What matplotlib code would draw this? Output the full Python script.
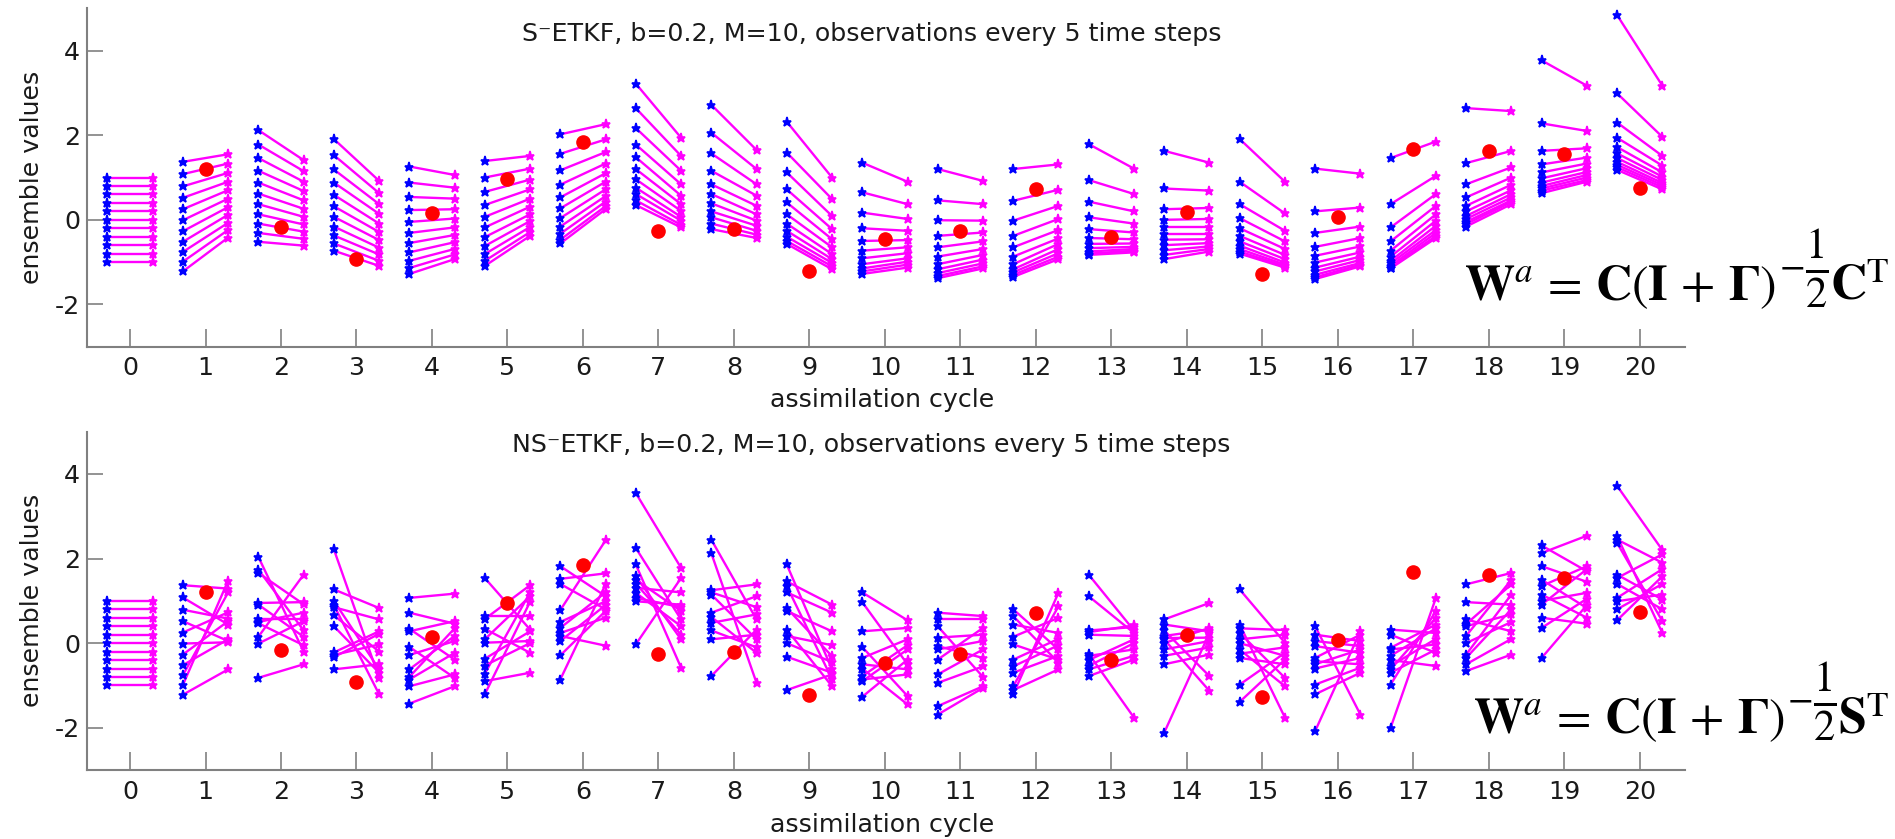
import numpy as np
import matplotlib
matplotlib.use('Agg')
import matplotlib.pyplot as plt

plt.rcParams['font.family'] = ['DejaVu Sans']
plt.rcParams['axes.unicode_minus'] = False
plt.rcParams['mathtext.fontset'] = 'stix'

cycles = list(range(21))
cycle_labels = [str(c) for c in cycles]

# observations (same for both filters), cycles 1..20
obs_cycles = list(range(1, 21))
obs_values = [1.21, -0.16, -0.93, 0.15, 0.96, 1.85, -0.26, -0.22, -1.22, -0.46,
              -0.26, 0.72, -0.40, 0.19, -1.28, 0.07, 1.68, 1.62, 1.55, 0.74]

# S-ETKF: forecast members and their analysis (same member order)
s_forecast = [
    [1.0, 0.8, 0.6, 0.4, 0.2, 0.0, -0.2, -0.4, -0.6, -0.8, -1.0],
    [1.37, 1.08, 0.79, 0.52, 0.25, -0.01, -0.27, -0.52, -0.76, -0.99, -1.22],
    [2.12, 1.78, 1.46, 1.16, 0.88, 0.62, 0.37, 0.13, -0.09, -0.31, -0.52],
    [1.91, 1.53, 1.19, 0.88, 0.59, 0.32, 0.07, -0.16, -0.37, -0.56, -0.73],
    [1.26, 0.88, 0.54, 0.23, -0.05, -0.31, -0.55, -0.77, -0.97, -1.14, -1.28],
    [1.39, 1.00, 0.66, 0.35, 0.07, -0.18, -0.41, -0.62, -0.81, -0.97, -1.09],
    [2.02, 1.56, 1.17, 0.83, 0.53, 0.27, 0.04, -0.16, -0.33, -0.47, -0.56],
    [3.22, 2.64, 2.17, 1.78, 1.48, 1.20, 0.96, 0.76, 0.61, 0.46, 0.35],
    [2.72, 2.06, 1.57, 1.16, 0.84, 0.61, 0.39, 0.20, 0.06, -0.09, -0.22],
    [2.32, 1.59, 1.12, 0.72, 0.41, 0.13, -0.09, -0.26, -0.40, -0.50, -0.57],
    [1.35, 0.65, 0.17, -0.20, -0.50, -0.73, -0.91, -1.05, -1.15, -1.22, -1.28],
    [1.20, 0.46, -0.01, -0.38, -0.65, -0.87, -1.05, -1.17, -1.26, -1.33, -1.38],
    [1.20, 0.45, -0.02, -0.38, -0.65, -0.87, -1.05, -1.17, -1.24, -1.30, -1.35],
    [1.79, 0.94, 0.43, 0.06, -0.22, -0.43, -0.57, -0.67, -0.75, -0.80, -0.83],
    [1.63, 0.74, 0.25, 0.00, -0.18, -0.34, -0.47, -0.60, -0.72, -0.83, -0.93],
    [1.91, 0.90, 0.37, 0.04, -0.20, -0.38, -0.51, -0.61, -0.69, -0.75, -0.80],
    [1.21, 0.20, -0.31, -0.64, -0.85, -1.01, -1.13, -1.22, -1.30, -1.36, -1.40],
    [1.46, 0.37, -0.18, -0.51, -0.73, -0.87, -0.97, -1.03, -1.09, -1.13, -1.15],
    [2.64, 1.34, 0.84, 0.53, 0.33, 0.20, 0.09, 0.02, -0.05, -0.10, -0.16],
    [3.77, 2.28, 1.63, 1.31, 1.12, 0.98, 0.88, 0.80, 0.74, 0.69, 0.63],
    [4.84, 2.99, 2.30, 1.94, 1.72, 1.57, 1.46, 1.37, 1.30, 1.24, 1.18],
]
s_analysis = [
    [1.0, 0.8, 0.6, 0.4, 0.2, 0.0, -0.2, -0.4, -0.6, -0.8, -1.0],
    [1.55, 1.33, 1.11, 0.90, 0.70, 0.50, 0.30, 0.12, -0.07, -0.24, -0.42],
    [1.41, 1.15, 0.90, 0.68, 0.46, 0.26, 0.07, -0.11, -0.28, -0.45, -0.61],
    [0.92, 0.63, 0.37, 0.14, -0.09, -0.29, -0.48, -0.66, -0.82, -0.97, -1.09],
    [1.06, 0.76, 0.50, 0.25, 0.03, -0.18, -0.36, -0.53, -0.69, -0.82, -0.93],
    [1.51, 1.21, 0.95, 0.72, 0.50, 0.31, 0.13, -0.03, -0.17, -0.29, -0.38],
    [2.26, 1.90, 1.60, 1.33, 1.10, 0.90, 0.72, 0.56, 0.43, 0.32, 0.25],
    [1.94, 1.51, 1.16, 0.84, 0.57, 0.37, 0.21, 0.07, -0.02, -0.12, -0.18],
    [1.65, 1.20, 0.84, 0.57, 0.33, 0.13, -0.02, -0.14, -0.26, -0.35, -0.43],
    [1.00, 0.49, 0.09, -0.22, -0.46, -0.65, -0.81, -0.93, -1.02, -1.10, -1.17],
    [0.90, 0.37, 0.02, -0.26, -0.48, -0.65, -0.79, -0.91, -0.99, -1.06, -1.13],
    [0.92, 0.37, -0.02, -0.30, -0.51, -0.69, -0.83, -0.94, -1.03, -1.10, -1.15],
    [1.31, 0.71, 0.33, 0.02, -0.24, -0.44, -0.57, -0.69, -0.79, -0.87, -0.93],
    [1.21, 0.61, 0.20, -0.09, -0.30, -0.46, -0.56, -0.64, -0.69, -0.73, -0.77],
    [1.35, 0.69, 0.28, 0.02, -0.18, -0.34, -0.46, -0.55, -0.63, -0.69, -0.75],
    [0.90, 0.15, -0.26, -0.51, -0.69, -0.83, -0.93, -1.01, -1.06, -1.10, -1.13],
    [1.09, 0.29, -0.16, -0.43, -0.63, -0.77, -0.87, -0.95, -1.02, -1.06, -1.10],
    [1.85, 1.04, 0.61, 0.33, 0.13, -0.02, -0.14, -0.24, -0.31, -0.38, -0.43],
    [2.57, 1.63, 1.24, 1.00, 0.83, 0.70, 0.61, 0.53, 0.46, 0.42, 0.37],
    [3.17, 2.10, 1.69, 1.47, 1.33, 1.22, 1.13, 1.06, 1.00, 0.94, 0.90],
    [3.17, 1.96, 1.51, 1.28, 1.12, 1.02, 0.94, 0.87, 0.82, 0.77, 0.72],
]

# NS-ETKF: forecast members and their analysis (same member order -> crossings)
ns_forecast = [
    [1.0, 0.8, 0.6, 0.4, 0.2, 0.0, -0.2, -0.4, -0.6, -0.8, -1.0],
    [1.37, 1.08, 0.79, 0.52, 0.25, -0.01, -0.27, -0.52, -0.76, -0.99, -1.22],
    [2.04, 1.74, 1.66, 0.95, 0.91, 0.56, 0.50, 0.47, 0.15, -0.01, -0.82],
    [2.22, 1.27, 1.00, 0.90, 0.85, 0.66, 0.40, -0.22, -0.28, -0.33, -0.62],
    [1.07, 0.72, 0.34, 0.28, -0.09, -0.28, -0.62, -0.80, -0.86, -1.02, -1.43],
    [1.54, 0.64, 0.57, 0.34, 0.09, 0.01, -0.37, -0.53, -0.72, -0.90, -1.21],
    [1.82, 1.52, 1.40, 0.78, 0.50, 0.36, 0.24, 0.17, 0.05, -0.29, -0.86],
    [3.55, 2.25, 1.86, 1.58, 1.50, 1.41, 1.31, 1.19, 1.07, 0.99, -0.03],
    [2.45, 2.13, 1.25, 1.20, 1.15, 0.72, 0.62, 0.48, 0.30, 0.09, -0.78],
    [1.86, 1.46, 1.35, 1.20, 0.83, 0.76, 0.32, 0.17, 0.00, -0.32, -1.11],
    [1.20, 0.97, 0.28, -0.09, -0.35, -0.50, -0.60, -0.78, -0.86, -0.90, -1.27],
    [0.72, 0.56, 0.40, 0.13, -0.07, -0.15, -0.39, -0.74, -0.94, -1.49, -1.69],
    [0.80, 0.64, 0.44, 0.15, -0.03, -0.39, -0.55, -0.70, -1.02, -1.11, -1.21],
    [1.62, 1.11, 0.30, 0.26, 0.20, -0.25, -0.30, -0.40, -0.54, -0.62, -0.78],
    [0.56, 0.44, 0.30, 0.17, 0.12, 0.09, 0.00, -0.15, -0.30, -0.50, -2.12],
    [1.27, 0.44, 0.35, 0.24, 0.09, 0.00, -0.15, -0.25, -0.35, -0.98, -1.39],
    [0.40, 0.20, 0.05, -0.07, -0.35, -0.43, -0.50, -0.60, -0.98, -1.21, -2.08],
    [0.32, 0.20, -0.11, -0.15, -0.30, -0.40, -0.54, -0.62, -0.70, -0.98, -2.00],
    [1.39, 0.97, 0.56, 0.45, 0.40, 0.17, 0.00, -0.27, -0.35, -0.50, -0.66],
    [2.31, 2.13, 1.82, 1.50, 1.35, 1.15, 1.00, 0.91, 0.60, 0.36, -0.35],
    [3.72, 2.53, 2.45, 2.37, 1.62, 1.54, 1.40, 1.07, 0.99, 0.80, 0.54],
]
ns_analysis = [
    [1.0, 0.8, 0.6, 0.4, 0.2, 0.0, -0.2, -0.4, -0.6, -0.8, -1.0],
    [1.29, 0.44, 0.58, 0.05, 0.73, 0.02, 0.52, 0.09, 1.20, 1.48, -0.62],
    [-0.20, 0.30, 0.92, 0.97, 0.15, 0.56, 0.72, -0.05, 1.62, 0.52, -0.50],
    [-0.82, 0.83, -0.62, -1.21, 0.56, -0.20, -0.70, 0.28, -0.03, 0.22, -0.50],
    [1.17, 0.46, -0.39, 0.52, -0.82, 0.05, 0.17, 0.35, -0.23, -0.74, -1.02],
    [0.32, 0.64, 1.37, -0.23, 1.11, 0.05, 0.28, 0.00, 1.20, -0.70, 0.98],
    [1.11, 1.65, 0.80, 2.43, 0.99, 1.20, 0.60, -0.06, 0.90, 0.76, 1.39],
    [1.78, 0.56, -0.58, 0.09, 0.76, 0.20, 1.20, 0.40, 0.85, 0.91, 1.54],
    [0.56, -0.94, 1.39, 0.85, 0.09, 1.11, -0.23, 0.68, -0.10, 0.20, 0.32],
    [-0.62, 0.91, -0.85, 0.72, -0.31, 0.28, -1.02, -0.05, -0.45, -0.70, -0.74],
    [0.54, -0.50, 0.36, -1.25, 0.09, -0.62, -1.45, -0.05, -0.74, -0.15, -0.39],
    [0.64, 0.56, -0.80, 0.20, -0.35, 0.05, 0.36, -0.15, -0.55, -1.02, -1.06],
    [-0.15, -0.46, 0.24, 0.60, -0.39, 0.10, -0.05, -0.30, 0.87, -0.62, 1.19],
    [0.30, 0.24, 0.38, 0.42, 0.17, -1.76, -0.15, 0.09, 0.00, -0.30, -0.39],
    [0.95, 0.28, -0.78, 0.32, 0.13, -1.13, 0.36, 0.05, -0.10, -0.27, 0.24],
    [0.01, -1.76, 0.31, -0.82, 0.20, -0.30, -1.02, -0.10, -0.50, -0.23, -0.39],
    [-1.69, 0.05, -0.07, -0.23, 0.20, -0.50, -0.15, -0.35, -0.58, -0.70, 0.28],
    [0.24, -0.23, 0.44, -0.03, 0.35, -0.54, 0.10, 0.60, -0.15, 0.76, 1.07],
    [1.66, 0.91, 0.28, 1.39, 0.68, 1.50, 0.50, 1.15, 0.80, 0.10, -0.27],
    [1.70, 2.54, 1.45, 0.83, 1.82, 0.60, 1.19, 1.75, 0.46, 1.05, 0.90],
    [2.20, 0.24, 1.90, 0.52, 1.03, 2.10, 0.80, 1.75, 1.15, 1.40, 1.58],
]

titles = ['S\u207bETKF, b=0.2, M=10, observations every 5 time steps',
          'NS\u207bETKF, b=0.2, M=10, observations every 5 time steps']
# formula pieces: left part, raised minus, raised 1/2, right factor
formula_left = r'$\mathbf{W}^{a}\,=\,\mathbf{C}(\mathbf{I}\,+\,\mathbf{\Gamma})$'
formula_minus = r'$-$'
formula_half = r'$\frac{1}{2}$'
formula_right = [r'$\mathbf{C}^{\mathrm{T}}$', r'$\mathbf{S}^{\mathrm{T}}$']

W, H = 1895, 839
fig = plt.figure(figsize=(W / 100, H / 100), dpi=100)
ax_top = fig.add_axes([87 / W, 1 - 346.7 / H, 1598 / W, 338.4 / H])
ax_bot = fig.add_axes([87 / W, 1 - 770 / H, 1598 / W, 338.3 / H])

gray = '#808080'
txt = '#1a1a1a'
fs = 18.2
half = 0.3  # forecast / analysis offset from the cycle tick

panels = [(ax_top, s_forecast, s_analysis, titles[0], 0.924),
          (ax_bot, ns_forecast, ns_analysis, titles[1], 0.961)]

for ax, fc, an, title, ty in panels:
    for c in cycles:
        xf, xa = c - half, c + half
        for f, a in zip(fc[c], an[c]):
            ax.plot([xf, xa], [f, a], color='#ff00ff', lw=1.7, zorder=2)
        ax.plot([xa] * len(an[c]), an[c], ls='none', marker='*', ms=6.5, mew=1.2,
                color='#ff00ff', zorder=3)
        ax.plot([xf] * len(fc[c]), fc[c], ls='none', marker='*', ms=6.5, mew=1.2,
                color='#0000ff', zorder=3)
    ax.plot(obs_cycles, obs_values, ls='none', marker='o', ms=9.5,
            color='#ff0000', zorder=4)

    ax.set_xlim(-0.57, 20.6)
    ax.set_ylim(-3, 5)
    ax.set_xticks(cycles)
    ax.set_xticklabels(cycle_labels)
    ax.set_yticks([-2, 0, 2, 4])
    for s in ['top', 'right']:
        ax.spines[s].set_visible(False)
    for s in ['left', 'bottom']:
        ax.spines[s].set_color(gray)
        ax.spines[s].set_linewidth(1.5)
    ax.tick_params(axis='x', direction='in', length=13, width=1.2, color=gray,
                   labelcolor=txt, labelsize=fs, pad=7)
    ax.tick_params(axis='y', direction='in', length=11.5, width=1.2, color=gray,
                   labelcolor=txt, labelsize=fs, pad=5)

    ax.text(0.491, ty, title, transform=ax.transAxes, ha='center', va='center',
            fontsize=fs, color=txt)
    ax.text(-0.0344, 0.5, 'ensemble values', transform=ax.transAxes,
            rotation=90, ha='center', va='center', fontsize=fs, color=txt)

ax_top.text(0.4975, -0.1575, 'assimilation cycle', transform=ax_top.transAxes,
            ha='center', va='center', fontsize=fs, color=txt)
ax_bot.text(0.4975, -0.1626, 'assimilation cycle', transform=ax_bot.transAxes,
            ha='center', va='center', fontsize=fs, color=txt)

# formulas, put together piece by piece so the 1/2 exponent can be large
renderer = fig.canvas.get_renderer()
for (x0, base), right in zip([(1467, 300), (1488, 733)], formula_right):
    pieces = []
    t = fig.text(x0 / W, 1 - base / H, formula_left, ha='left', va='baseline',
                 fontsize=36, color='black')
    pieces.append(t)
    x = t.get_window_extent(renderer).x1 + 3
    t = fig.text(x / W, 1 - (base - 24) / H, formula_minus, ha='left',
                 va='baseline', fontsize=27, color='black')
    pieces.append(t)
    x = t.get_window_extent(renderer).x1 + 1
    t = fig.text(x / W, 1 - (base - 18) / H, formula_half, ha='left',
                 va='baseline', fontsize=44, color='black')
    pieces.append(t)
    x = t.get_window_extent(renderer).x1 + 1
    t = fig.text(x / W, 1 - base / H, right, ha='left', va='baseline',
                 fontsize=36, color='black')
    pieces.append(t)
    # keep the whole formula inside the figure
    over = t.get_window_extent(renderer).x1 - (W - 6)
    if over > 0:
        for p in pieces:
            px, py = p.get_position()
            p.set_position((px - over / W, py))

fig.savefig('out.png', dpi=100, facecolor='white')
